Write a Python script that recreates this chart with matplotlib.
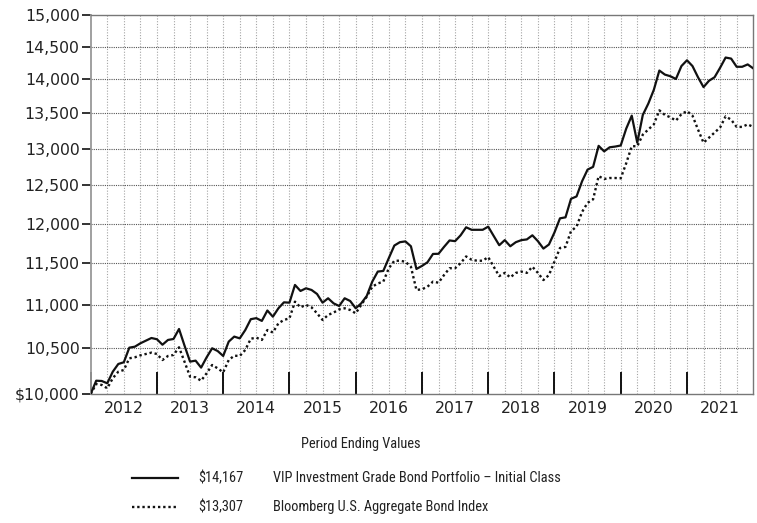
import numpy as np
import matplotlib
matplotlib.use("Agg")
from matplotlib import pyplot as plt
from matplotlib import font_manager
from matplotlib.lines import Line2D
from matplotlib.ticker import FixedLocator, FuncFormatter, NullLocator

plt.rcParams["font.family"] = "DejaVu Sans"

years = [2012, 2013, 2014, 2015, 2016, 2017, 2018, 2019, 2020, 2021]

# monthly values, Dec 2011 .. Dec 2021
fund = [10000, 10143, 10140, 10115, 10241, 10326, 10345, 10508, 10519, 10557, 10587, 10617,
        10603, 10541, 10595, 10606, 10720, 10530, 10352, 10363, 10286, 10400, 10501, 10470,
        10415, 10576, 10633, 10613, 10708, 10833, 10845, 10813, 10934, 10862, 10960, 11030,
        11026, 11237, 11165, 11197, 11177, 11129, 11026, 11078, 11018, 10987, 11078, 11046,
        10960, 11018, 11105, 11277, 11399, 11407, 11565, 11721, 11763, 11773, 11712, 11431,
        11468, 11513, 11616, 11618, 11704, 11785, 11776, 11850, 11952, 11920, 11920, 11920,
        11960, 11841, 11725, 11789, 11712, 11763, 11789, 11798, 11850, 11776, 11683, 11734,
        11886, 12067, 12080, 12322, 12353, 12555, 12713, 12750, 13040, 12963, 13020, 13030,
        13045, 13283, 13468, 13084, 13478, 13643, 13846, 14134, 14073, 14048, 14007, 14202,
        14290, 14202, 14033, 13886, 13981, 14033, 14176, 14332, 14316, 14191, 14191, 14227,
        14167]

index = [10000, 10108, 10097, 10061, 10170, 10241, 10260, 10389, 10400, 10422, 10437, 10452,
         10437, 10370, 10415, 10426, 10512, 10350, 10187, 10180, 10143, 10224, 10315, 10278,
         10234, 10370, 10418, 10415, 10482, 10609, 10621, 10595, 10708, 10680, 10785, 10824,
         10843, 11038, 10971, 11000, 10971, 10901, 10824, 10882, 10910, 10947, 10960, 10940,
         10901, 11000, 11097, 11216, 11255, 11277, 11440, 11532, 11532, 11520, 11458, 11177,
         11185, 11216, 11277, 11264, 11357, 11440, 11440, 11502, 11585, 11544, 11532, 11532,
         11577, 11458, 11344, 11383, 11328, 11383, 11399, 11383, 11458, 11383, 11296, 11357,
         11520, 11690, 11704, 11903, 11961, 12150, 12269, 12315, 12624, 12586, 12599, 12599,
         12595, 12800, 13035, 13035, 13197, 13270, 13343, 13545, 13478, 13444, 13397, 13490,
         13535, 13468, 13270, 13084, 13155, 13227, 13298, 13458, 13410, 13307, 13307, 13343,
         13307]

y_ticks = list(range(10000, 15001, 500))
names = ["VIP Investment Grade Bond Portfolio \u2013 Initial Class",
         "Bloomberg U.S. Aggregate Bond Index"]

months = np.arange(len(fund))

# pick a narrow face for the legend if there is one
fonts = font_manager.fontManager.ttflist
font_names = {f.name for f in fonts}
leg_kw = {"family": "DejaVu Sans", "fontsize": 9.0}
for cand in ["Liberation Sans Narrow", "Roboto Condensed", "Open Sans Condensed",
             "Noto Sans Condensed", "DejaVu Sans Condensed"]:
    if cand in font_names:
        leg_kw = {"family": cand, "fontsize": 10.4}
        break
else:
    for f in fonts:
        if f.name in ("DejaVu Sans", "Noto Sans", "Open Sans", "Roboto") and f.stretch in ("condensed", "semi-condensed"):
            leg_kw = {"family": f.name, "fontstretch": f.stretch, "fontsize": 10.0}
            break

fig = plt.figure(figsize=(7.57, 5.23), dpi=100)
ax = fig.add_axes([0.1198, 0.2467, 0.8752, 0.7247])

# quarterly vertical grid
for m in range(3, 120, 3):
    ax.axvline(m, color="#a5a5a5", linewidth=0.8, linestyle=(0, (1, 1.5)), zorder=1)
for v in y_ticks[1:-1]:
    ax.axhline(v, color="#555555", linewidth=0.8, linestyle=(0, (1, 1)), zorder=1)

ax.plot(months, fund, color="#111111", linewidth=1.6, zorder=3)
ax.plot(months, index, color="#111111", linewidth=1.7, linestyle=(0, (1, 1.2)), zorder=3)

ax.set_yscale("log")
ax.set_ylim(10000, 15000)
ax.set_xlim(0, 120)
ax.yaxis.set_major_locator(FixedLocator(y_ticks))
ax.yaxis.set_minor_locator(NullLocator())
ax.yaxis.set_major_formatter(FuncFormatter(lambda v, p: ("$" if v == 10000 else "") + f"{int(round(v)):,}"))

ax.xaxis.set_major_locator(FixedLocator(list(range(0, 120, 12))))
ax.xaxis.set_major_formatter(FuncFormatter(lambda v, p: ""))
ax.xaxis.set_minor_locator(FixedLocator([6 + 12 * i for i in range(len(years))]))
ax.xaxis.set_minor_formatter(FuncFormatter(lambda v, p: str(years[int(v) // 12])))

ax.tick_params(axis="y", which="major", direction="out", length=6.5, width=1.2,
               color="#111111", labelsize=11.3, pad=1.5, labelcolor="#222222")
ax.tick_params(axis="x", which="major", direction="in", length=16, width=1.4, color="#111111")
ax.tick_params(axis="x", which="minor", length=0, labelsize=11.3, pad=5, labelcolor="#222222")

for s in ["top", "right", "bottom"]:
    ax.spines[s].set_color("#777777")
    ax.spines[s].set_linewidth(1.0)
ax.spines["left"].set_color("#999999")
ax.spines["left"].set_linewidth(1.3)

fig.text(0.476, 0.151, "Period Ending Values", ha="center", va="center",
         color="#222222", **leg_kw)

fig.add_artist(Line2D([0.175, 0.235], [0.086, 0.086], color="#111111", linewidth=1.6))
fig.add_artist(Line2D([0.175, 0.235], [0.031, 0.031], color="#111111", linewidth=1.7,
                      linestyle=(0, (1, 1.2))))
fig.text(0.262, 0.086, f"${fund[-1]:,}", ha="left", va="center", color="#222222", **leg_kw)
fig.text(0.262, 0.031, f"${index[-1]:,}", ha="left", va="center", color="#222222", **leg_kw)
fig.text(0.361, 0.086, names[0], ha="left", va="center", color="#222222", **leg_kw)
fig.text(0.361, 0.031, names[1], ha="left", va="center", color="#222222", **leg_kw)

fig.savefig("out.png", dpi=100)
